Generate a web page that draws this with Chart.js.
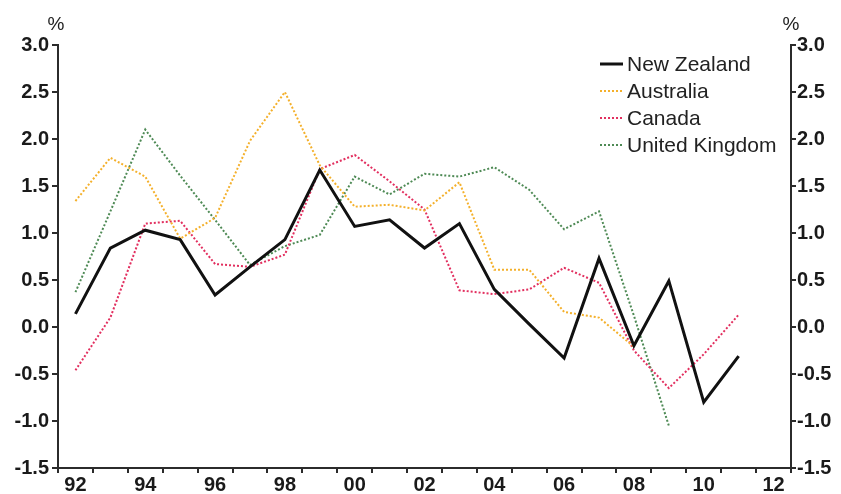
<!DOCTYPE html>
<html>
<head>
<meta charset="utf-8">
<script src="https://cdn.jsdelivr.net/npm/chart.js@4/dist/chart.umd.min.js"></script>
<style>
  html, body { margin: 0; padding: 0; background: #ffffff; }
  #wrap { width: 841px; height: 494px; position: relative; }
</style>
</head>
<body>
<div id="wrap"><canvas id="c" width="841" height="494"></canvas></div>
<script>
const years = ['92','93','94','95','96','97','98','99','00','01','02','03','04','05','06','07','08','09','10','11','12'];
const shownYears = ['92','94','96','98','00','02','04','06','08','10','12'];
const yTicks = [-1.5, -1.0, -0.5, 0.0, 0.5, 1.0, 1.5, 2.0, 2.5, 3.0];
const unitLabel = '%';

const newZealand = [0.14, 0.84, 1.03, 0.93, 0.34, 0.64, 0.93, 1.67, 1.07, 1.14, 0.84, 1.10, 0.40, 0.03, -0.33, 0.73, -0.20, 0.49, -0.80, -0.31];
const australia  = [1.34, 1.80, 1.60, 0.94, 1.16, 1.98, 2.50, 1.72, 1.28, 1.30, 1.24, 1.54, 0.61, 0.61, 0.16, 0.10, -0.21];
const canada     = [-0.46, 0.10, 1.10, 1.13, 0.67, 0.64, 0.77, 1.68, 1.83, 1.55, 1.25, 0.39, 0.35, 0.40, 0.63, 0.47, -0.25, -0.65, -0.29, 0.13];
const unitedKingdom = [0.37, 1.23, 2.10, 1.61, 1.14, 0.66, 0.86, 0.98, 1.60, 1.41, 1.63, 1.60, 1.70, 1.46, 1.04, 1.23, 0.12, -1.05];

const seriesNames = ['New Zealand', 'Australia', 'Canada', 'United Kingdom'];

const FONT = '"Liberation Sans", Arial, sans-serif';
const AXIS = '#2b2b2b';

const legendPlugin = {
  id: 'customLegend',
  afterDraw(chart) {
    const ctx = chart.ctx;
    ctx.save();
    ctx.font = '21px ' + FONT;
    ctx.textBaseline = 'middle';
    ctx.textAlign = 'left';
    chart.data.datasets.forEach((ds, i) => {
      const y = 64 + i * 27;
      ctx.beginPath();
      ctx.strokeStyle = ds.borderColor;
      ctx.lineWidth = ds.borderWidth;
      ctx.setLineDash(ds.borderDash || []);
      ctx.moveTo(600, y);
      ctx.lineTo(623, y);
      ctx.stroke();
      ctx.setLineDash([]);
      ctx.fillStyle = '#222';
      ctx.fillText(ds.label, 627, y + 1);
    });
    ctx.font = '19px ' + FONT;
    ctx.textAlign = 'center';
    ctx.fillStyle = '#222';
    ctx.fillText(unitLabel, 56, 25);
    ctx.fillText(unitLabel, 791, 25);
    ctx.restore();
  }
};

const yCommon = {
  type: 'linear',
  min: yTicks[0],
  max: yTicks[yTicks.length - 1],
  afterBuildTicks(scale) { scale.ticks = yTicks.map(v => ({ value: v })); },
  grid: { drawOnChartArea: false, drawTicks: true, tickLength: 6, color: AXIS, lineWidth: 2 },
  border: { display: true, color: AXIS, width: 2 },
  ticks: {
    color: '#1a1a1a',
    font: { family: FONT, size: 20, weight: 'bold' },
    callback: v => Number(v).toFixed(1),
  }
};

new Chart(document.getElementById('c'), {
  type: 'line',
  data: {
    labels: years,
    datasets: [
      { label: seriesNames[0], data: newZealand, borderColor: '#111111', borderWidth: 3, borderDash: [], yAxisID: 'y' },
      { label: seriesNames[1], data: australia, borderColor: '#F4B02B', borderWidth: 2, borderDash: [2, 2], yAxisID: 'y' },
      { label: seriesNames[2], data: canada, borderColor: '#E22F5F', borderWidth: 2, borderDash: [2, 2], yAxisID: 'y' },
      { label: seriesNames[3], data: unitedKingdom, borderColor: '#4E8A55', borderWidth: 2, borderDash: [2, 2], yAxisID: 'y' },
    ]
  },
  options: {
    responsive: false,
    animation: false,
    devicePixelRatio: 1,
    layout: { padding: { top: 45, left: 0, right: 0, bottom: 0 } },
    elements: { point: { radius: 0 }, line: { tension: 0, borderCapStyle: 'butt', borderJoinStyle: 'miter' } },
    plugins: { legend: { display: false }, tooltip: { enabled: false } },
    scales: {
      x: {
        type: 'category',
        offset: true,
        grid: { offset: true, drawOnChartArea: false, drawTicks: true, tickLength: 5, color: AXIS, lineWidth: 2 },
        border: { display: true, color: AXIS, width: 2 },
        ticks: {
          autoSkip: false,
          maxRotation: 0,
          padding: 0,
          color: '#1a1a1a',
          font: { family: FONT, size: 20, weight: 'bold' },
          callback: function(val) { const l = this.getLabelForValue(val); return shownYears.includes(l) ? l : ''; }
        },
        afterFit(scale) { scale.height = 26; }
      },
      y: Object.assign({}, yCommon, {
        position: 'left',
        ticks: Object.assign({}, yCommon.ticks, { padding: 3 }),
        afterFit(scale) { scale.width = 58; }
      }),
      y1: Object.assign({}, yCommon, {
        position: 'right',
        grid: Object.assign({}, yCommon.grid, { tickLength: 5 }),
        ticks: Object.assign({}, yCommon.ticks, { padding: 1 }),
        afterFit(scale) { scale.width = 50; }
      })
    }
  },
  plugins: [legendPlugin]
});
</script>
</body>
</html>
